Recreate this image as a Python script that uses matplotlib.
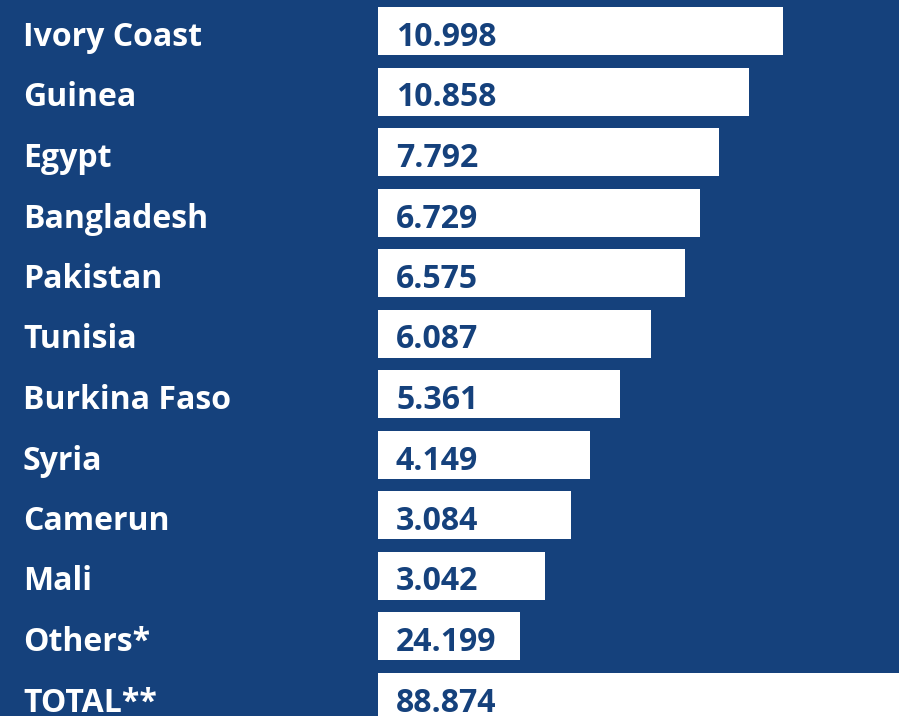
import matplotlib.pyplot as plt

countries = [
    "Ivory Coast", "Guinea", "Egypt", "Bangladesh", "Pakistan", "Tunisia",
    "Burkina Faso", "Syria", "Camerun", "Mali", "Others*", "TOTAL**",
]
values = [
    "10.998", "10.858", "7.792", "6.729", "6.575", "6.087",
    "5.361", "4.149", "3.084", "3.042", "24.199", "88.874",
]
# bar lengths as drawn in the infographic (not proportional to values)
bar_lengths = [405, 371, 341, 322, 307, 273, 242, 212, 193, 167, 142, 530]

BG = "#15417c"
FONT = "Open Sans"

fig = plt.figure(figsize=(8.99, 7.16), dpi=100)
fig.patch.set_facecolor(BG)
ax = fig.add_axes([0, 0, 1, 1])
ax.set_facecolor(BG)

rows = list(range(len(countries)))
ax.barh(rows, bar_lengths, left=378, height=48 / 60.5, color="white")

for i, (name, val) in enumerate(zip(countries, values)):
    # baseline sits ~15 px below the bar centre
    y = i + 15 / 60.5
    ax.text(23, y, name, color="white", fontsize=23, fontweight="bold",
            family=FONT, va="baseline", ha="left")
    ax.text(396, y, val, color=BG, fontsize=23, fontweight="bold",
            family=FONT, va="baseline", ha="left")

ax.set_xlim(0, 899)
ax.set_ylim((716 - 31) / 60.5, -31 / 60.5)
ax.axis("off")

fig.savefig("out.png", dpi=100, facecolor=BG)
